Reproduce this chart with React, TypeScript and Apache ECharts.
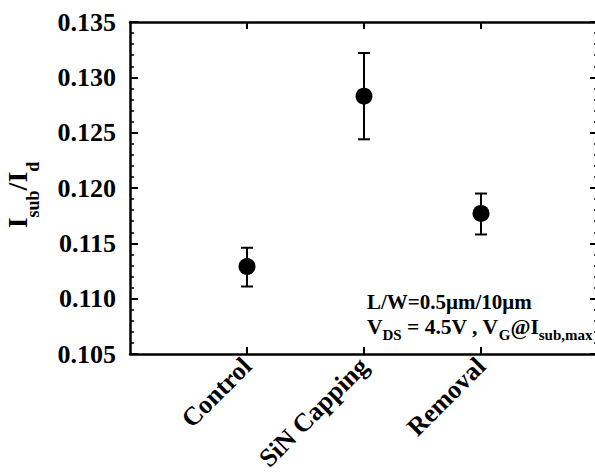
import React, { useEffect, useRef } from "react";
import * as echarts from "echarts";

const categories = ["Control", "SiN Capping", "Removal"];
const meanValues = [0.1129, 0.1283, 0.1177];
const errorLow = [0.1111, 0.1244, 0.1158];
const errorHigh = [0.1146, 0.1322, 0.1195];
const yMin = 0.105;
const yMax = 0.135;
const yStep = 0.005;

const FONT = '"Liberation Serif", "Times New Roman", serif';

export default function App() {
  const ref = useRef<HTMLDivElement>(null);

  useEffect(() => {
    if (!ref.current) return;
    const chart = echarts.init(ref.current, undefined, { renderer: "svg" });
    const axisCats = ["", ...categories, ""];
    const tickFilter = (i: number) => i >= 1 && i <= categories.length;

    const lineStyle = { color: "#000", width: 2.5 };
    const yAxisCommon = {
      type: "value",
      min: yMin,
      max: yMax,
      interval: yStep,
      splitLine: { show: false },
      axisLine: { show: true, lineStyle },
      axisTick: { show: true, inside: true, length: 8, lineStyle: { color: "#000", width: 2 } },
      minorTick: { show: true, splitNumber: 5, length: 4, lineStyle: { color: "#000", width: 1.5 } },
    };
    const xAxisCommon = {
      type: "category",
      data: axisCats,
      boundaryGap: false,
      axisLine: { show: true, lineStyle },
      axisTick: { show: true, inside: true, length: 7, interval: tickFilter, lineStyle: { color: "#000", width: 2 } },
      splitLine: { show: false },
    };

    chart.setOption({
      animation: false,
      grid: { left: 130, right: -3, top: 22, bottom: 121, containLabel: false, outerBoundsMode: "none" },
      xAxis: [
        {
          ...xAxisCommon,
          position: "bottom",
          axisLabel: {
            interval: 0,
            rotate: 45,
            margin: 8,
            color: "#000",
            fontSize: 26,
            fontWeight: "bold",
            fontFamily: FONT,
          },
        },
        { ...xAxisCommon, position: "top", axisLabel: { show: false } },
      ],
      yAxis: [
        {
          ...yAxisCommon,
          position: "left",
          axisLabel: {
            margin: 14,
            color: "#000",
            fontSize: 26,
            fontWeight: "bold",
            fontFamily: FONT,
            formatter: (v: number) => v.toFixed(3),
          },
        },
        { ...yAxisCommon, position: "right", axisLabel: { show: false } },
      ],
      series: [
        {
          type: "custom",
          xAxisIndex: 0,
          yAxisIndex: 0,
          data: categories.map((_, i) => [i + 1, errorLow[i], errorHigh[i]]),
          encode: { x: 0, y: [1, 2] },
          renderItem: (_params: any, api: any) => {
            const x = api.value(0);
            const top = api.coord([x, api.value(2)]);
            const bot = api.coord([x, api.value(1)]);
            const hw = 6;
            const style = { stroke: "#000", lineWidth: 2 };
            return {
              type: "group",
              children: [
                { type: "line", shape: { x1: top[0], y1: top[1], x2: bot[0], y2: bot[1] }, style },
                { type: "line", shape: { x1: top[0] - hw, y1: top[1], x2: top[0] + hw, y2: top[1] }, style },
                { type: "line", shape: { x1: bot[0] - hw, y1: bot[1], x2: bot[0] + hw, y2: bot[1] }, style },
              ],
            };
          },
          z: 2,
        },
        {
          type: "scatter",
          xAxisIndex: 0,
          yAxisIndex: 0,
          data: categories.map((_, i) => [i + 1, meanValues[i]]),
          symbol: "circle",
          symbolSize: 17,
          itemStyle: { color: "#000", opacity: 1 },
          z: 3,
        },
      ],
      graphic: [
        {
          type: "text",
          x: 17.5,
          y: 195,
          rotation: Math.PI / 2,
          style: {
            text: "{m|I}{s|sub}{m|/I}{s|d}",
            align: "center",
            verticalAlign: "middle",
            fill: "#000",
            rich: {
              m: { fontSize: 28, fontWeight: "bold", fontFamily: FONT, fill: "#000" },
              s: { fontSize: 18, fontWeight: "bold", fontFamily: FONT, fill: "#000", padding: [31, 0, 0, 0] },
            },
          },
        },
        {
          type: "text",
          x: 367,
          y: 302,
          style: {
            text: "L/W=0.5μm/10μm",
            align: "left",
            verticalAlign: "middle",
            fill: "#000",
            fontSize: 21,
            fontWeight: "bold",
            fontFamily: FONT,
          },
        },
        {
          type: "text",
          x: 367,
          y: 327,
          style: {
            text: "{m|V}{s|DS}{m| = 4.5V , V}{s|G}{m|@I}{s|sub,max}",
            align: "left",
            verticalAlign: "middle",
            fill: "#000",
            rich: {
              m: { fontSize: 21.5, fontWeight: "bold", fontFamily: FONT, fill: "#000" },
              s: { fontSize: 15, fontWeight: "bold", fontFamily: FONT, fill: "#000", padding: [15, 0, 0, 0] },
            },
          },
        },
      ],
    });
    return () => chart.dispose();
  }, []);

  return (
    <div
      ref={ref}
      style={{ position: "fixed", left: 0, top: 0, width: 595, height: 475, background: "#fff" }}
    />
  );
}
